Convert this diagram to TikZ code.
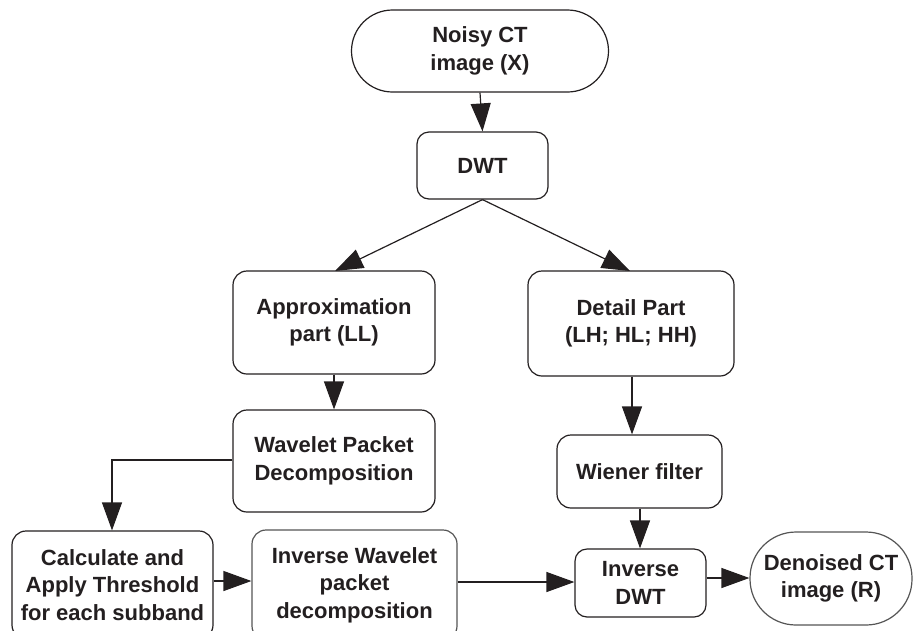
\documentclass[tikz,border=0pt]{standalone}
\usepackage{fontspec}
\setmainfont{Liberation Sans}
\usetikzlibrary{arrows.meta}
\definecolor{ink}{HTML}{231F20}
\definecolor{grayline}{HTML}{555555}
\tikzset{
  x=1pt,y=-1pt,
  every node/.style={font=\fontsize{22}{27.5}\selectfont\bfseries, text=ink, align=center, inner sep=0pt},
  box/.style={draw=ink, line width=1.2pt, rounded corners=14pt, minimum width=#1},
  box/.default=200pt,
  conn/.style={draw=ink, line width=1.2pt, -{Triangle[length=28pt,width=20pt]}},
}
\begin{document}
\begin{tikzpicture}
\useasboundingbox (0,0) rectangle (920,630);
\clip (0,0) rectangle (920,630);
\node[box=257pt, minimum height=82pt, rounded corners=41pt] (noisy) at (480,51) {Noisy CT\\image (X)};
\node[box=131pt, minimum height=67pt, rounded corners=12pt] (dwt) at (482.5,165.5) {DWT};
\node[box=202pt, minimum height=103pt] (approx) at (334,322.5) {Approximation\\part (LL)};
\node[box=206pt, minimum height=105pt] (detail) at (631,323.5) {Detail Part\\(LH; HL; HH)};
\node[box=202pt, minimum height=102pt] (wp) at (334,461) {Wavelet Packet\\Decomposition};
\node[box=165pt, minimum height=73pt] (wiener) at (639.5,471.5) {Wiener filter};
\node[box=201pt, minimum height=108pt] (calc) at (112.5,585) {Calculate and\\Apply Threshold\\for each subband};
\node[box=205pt, minimum height=110pt, draw=grayline] (iwp) at (354.5,585) {Inverse Wavelet\\packet\\decomposition};
\node[box=131pt, minimum height=68pt, rounded corners=12pt] (idwt) at (640.5,583) {Inverse\\DWT};
\node[box=162pt, minimum height=93pt, rounded corners=46pt, draw=grayline] (den) at (831,578.5) {Denoised CT\\image (R)};
\coordinate (apxtop) at (335,271);
\coordinate (dettop) at (630,271);
\coordinate (bend) at (112,460);
\draw[conn] (noisy.south) -- (dwt.north);
\draw[conn] (dwt.south) -- (apxtop);
\draw[conn] (dwt.south) -- (dettop);
\draw[conn] (approx.south) -- (wp.north);
\draw[conn] (detail.south -| 632,0) -- (wiener.north -| 632,0);
\draw[conn] (wp.west |- bend) -- (bend) -- (calc.north -| bend);
\draw[conn] (calc.east |- 0,581) -- (iwp.west |- 0,581);
\draw[conn] (iwp.east |- 0,582) -- (idwt.west |- 0,582);
\draw[conn] (wiener.south -| 640,0) -- (idwt.north -| 640,0);
\draw[conn] (idwt.east |- 0,578) -- (den.west |- 0,578);
\end{tikzpicture}
\end{document}
